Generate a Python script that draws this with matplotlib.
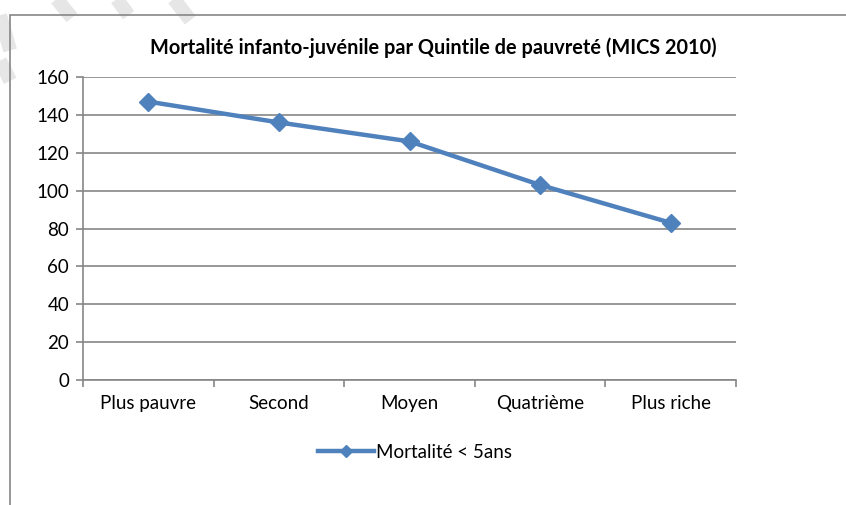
import matplotlib.pyplot as plt
from matplotlib.lines import Line2D
from matplotlib.patches import Rectangle

categories = ["Plus pauvre", "Second", "Moyen", "Quatrième", "Plus riche"]
mortality = [147, 136, 126, 103, 83]
yticks = [0, 20, 40, 60, 80, 100, 120, 140, 160]

plt.rcParams["font.family"] = ["Lato", "DejaVu Sans"]

fig = plt.figure(figsize=(8.46, 5.05), dpi=100)

# faint watermark strokes in the top-left corner
for (x0, y0), (x1, y1) in [((0.058, 1.02), (0.085, 0.965)),
                           ((0.13, 1.02), (0.152, 0.97)),
                           ((0.197, 1.02), (0.225, 0.96)),
                           ((0.0, 0.97), (0.012, 0.90)),
                           ((0.0, 0.88), (0.012, 0.84))]:
    fig.add_artist(Line2D([x0, x1], [y0, y1], transform=fig.transFigure,
                          color="#e6e6e6", lw=10, solid_capstyle="butt", zorder=0))

# chart frame
fig.add_artist(Rectangle((10 / 846, -0.05), 1.0, 1 - 15 / 505 + 0.05,
                         transform=fig.transFigure, fill=False,
                         edgecolor="#868686", lw=1.2, zorder=1))

ax = fig.add_axes([83 / 846, 1 - 380 / 505, (736 - 83) / 846, (380 - 77) / 505])
x = range(len(categories))
ax.plot(x, mortality, color="#4F81BD", lw=3.2, marker="D", markersize=9.5,
        label="Mortalité < 5ans", zorder=3)

ax.set_xlim(-0.5, len(categories) - 0.5)
ax.set_ylim(0, 160)
ax.set_yticks(yticks)
ax.yaxis.grid(True, color="#868686", lw=1.2)
ax.set_axisbelow(True)

ax.set_xticks([i + 0.5 for i in range(-1, len(categories))])
ax.set_xticklabels([])
ax.set_xticks(list(x), minor=True)
ax.set_xticklabels(categories, minor=True, fontsize=13.5)
ax.tick_params(axis="x", which="minor", length=0, pad=11)
ax.tick_params(axis="x", which="major", length=5, color="#868686", width=1.2)
ax.tick_params(axis="y", length=5, color="#868686", width=1.2, labelsize=13.5, pad=5)

for side in ["top", "right"]:
    ax.spines[side].set_visible(False)
for side in ["left", "bottom"]:
    ax.spines[side].set_color("#868686")
    ax.spines[side].set_linewidth(1.2)

fig.text(433 / 846, 1 - 48 / 505, "Mortalité infanto-juvénile par Quintile de pauvreté (MICS 2010)",
         ha="center", va="center", fontsize=14.3, fontweight="bold")

leg_handle = Line2D([], [], color="#4F81BD", lw=3.2, marker="D", markersize=6)
fig.legend(handles=[leg_handle], labels=["Mortalité < 5ans"], loc="center",
           bbox_to_anchor=(415 / 846, 1 - 452 / 505), frameon=False,
           fontsize=13.5, handlelength=3.0, handletextpad=0.1)

fig.savefig("out.png", dpi=100)
